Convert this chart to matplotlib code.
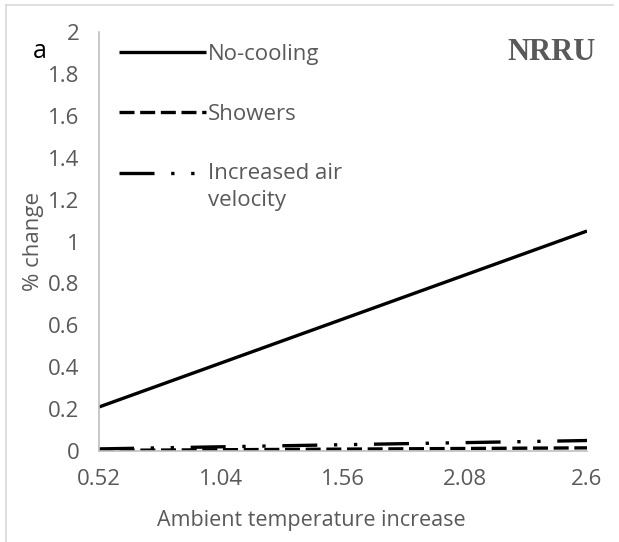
import matplotlib
matplotlib.use('Agg')
import matplotlib.pyplot as plt
from matplotlib.lines import Line2D

# ambient temperature increase (categories) and % change per cooling option
temp_increase = [0.52, 1.04, 1.56, 2.08, 2.6]
temp_labels = ['0.52', '1.04', '1.56', '2.08', '2.6']
no_cooling = [0.21, 0.42, 0.63, 0.84, 1.05]
showers = [0.003, 0.006, 0.009, 0.012, 0.015]
air_velocity = [0.01, 0.02, 0.03, 0.04, 0.05]
y_ticks = [0, 0.2, 0.4, 0.6, 0.8, 1, 1.2, 1.4, 1.6, 1.8, 2]
y_labels = ['0', '0.2', '0.4', '0.6', '0.8', '1', '1.2', '1.4', '1.6', '1.8', '2']

GREY = '#595959'
plt.rcParams['font.family'] = ['Open Sans', 'DejaVu Sans']

W, H = 619, 542
fig = plt.figure(figsize=(W / 100, H / 100), dpi=100)
ax = fig.add_axes([99 / W, 1 - 451 / H, (587 - 99) / W, (451 - 32) / H])

lw = 2.4
ax.plot(temp_increase, no_cooling, color='black', lw=lw, solid_capstyle='butt',
        label='No-cooling')
ax.plot(temp_increase, showers, color='black', lw=lw, dashes=(4.5, 1.7),
        dash_capstyle='butt', label='Showers')
ax.plot(temp_increase, air_velocity, color='black', lw=lw,
        dashes=(10.5, 5, 1, 5, 1, 5), dash_capstyle='butt',
        label='Increased air\nvelocity')

ax.set_xlim(0.52, 2.6)
ax.set_ylim(0, 2)
ax.set_xticks(temp_increase)
ax.set_xticklabels(temp_labels)
ax.set_yticks(y_ticks)
ax.set_yticklabels(y_labels)
ax.tick_params(length=0, labelsize=16, labelcolor=GREY)
ax.tick_params(axis='y', pad=14)
ax.tick_params(axis='x', pad=13)

for s in ['top', 'right']:
    ax.spines[s].set_visible(False)
for s in ['left', 'bottom']:
    ax.spines[s].set_color('#bfbfbf')
    ax.spines[s].set_linewidth(1.2)

ax.set_xlabel('Ambient temperature increase', fontsize=15.5, color=GREY)
ax.xaxis.set_label_coords(0.436, -0.14)
ax.set_ylabel('% change', fontsize=16, color=GREY)
ax.yaxis.set_label_coords(-0.113, 0.5)

leg = ax.legend(loc='upper left', bbox_to_anchor=(0.0, 1.02), frameon=False,
                fontsize=16, handlelength=3.9, handletextpad=0.1,
                labelspacing=1.75, labelcolor=GREY)
for t in leg.get_texts():
    t.set_linespacing(1.35)
# keep the two-line entry's sample level with its first line
h = leg.legend_handles[2]
h.set_ydata([y + 10.5 for y in h.get_ydata()])

fig.text(40 / W, 1 - 52 / H, 'a', fontsize=18, color='black',
         ha='center', va='center')
fig.text(552 / W, 1 - 52 / H, 'NRRU', fontsize=22, color=GREY, weight='bold',
         family='Liberation Serif', ha='center', va='center')

# outer frame (top and left edges only)
fig.add_artist(Line2D([6 / W, 613 / W], [1 - 5 / H, 1 - 5 / H],
                      color='#d9d9d9', lw=1.2, transform=fig.transFigure))
fig.add_artist(Line2D([6 / W, 6 / W], [0, 1 - 5 / H],
                      color='#d9d9d9', lw=1.2, transform=fig.transFigure))

fig.savefig('out.png', dpi=100)
